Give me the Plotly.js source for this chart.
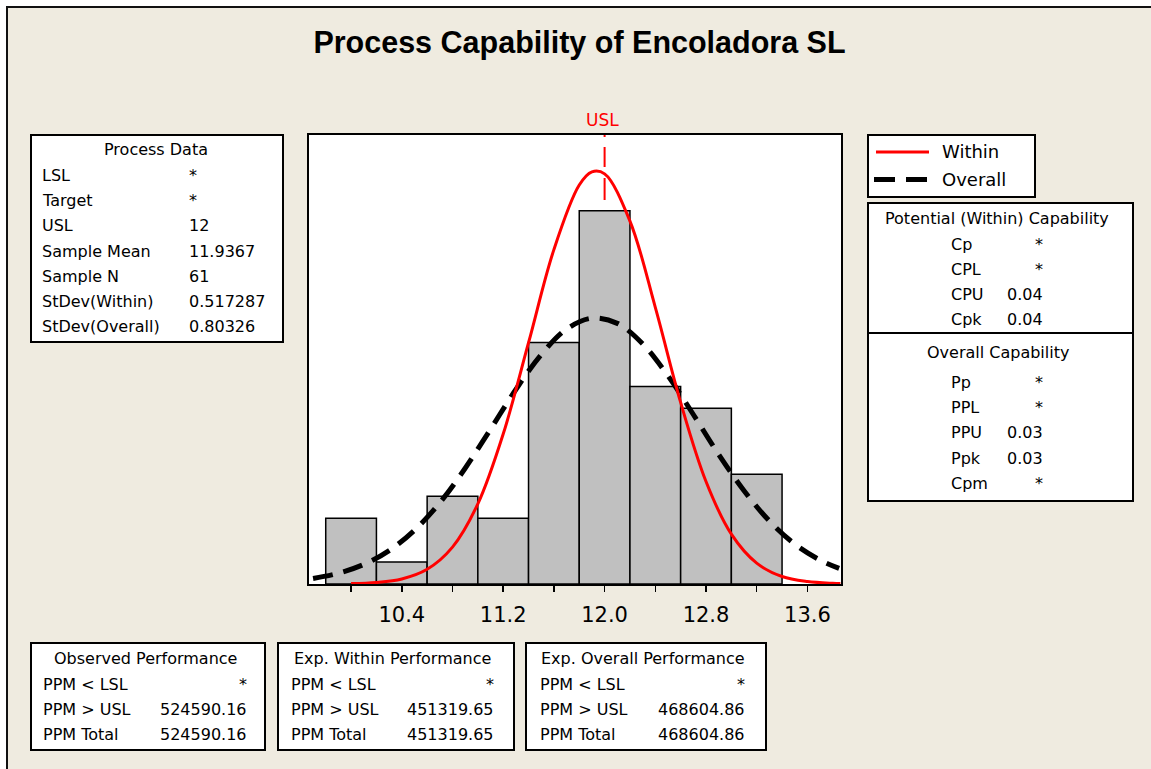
<!DOCTYPE html>
<html>
<head>
<meta charset="utf-8">
<script src="https://cdn.plot.ly/plotly-3.0.1.min.js"></script>
<style>
  html, body { margin: 0; padding: 0; background: #ffffff; }
  #chart { width: 1151px; height: 769px; }
</style>
</head>
<body>
<div id="chart"></div>
<script>
// ---------------- data ----------------
const chartTitle = 'Process Capability of Encoladora SL';

// histogram (bin width 0.4, N = 61)
const binCenters = [10.0, 10.4, 10.8, 11.2, 11.6, 12.0, 12.4, 12.8, 13.2];
const binCounts  = [3, 1, 4, 3, 11, 17, 9, 8, 5];
const binWidth = 0.4;

// "Within" fitted curve
const withinX = [10.0, 10.2, 10.4, 10.6, 10.8, 11.0, 11.2, 11.4, 11.6, 11.8, 11.9, 12.0, 12.2, 12.4, 12.6, 12.8, 13.0, 13.2, 13.4, 13.6, 13.8, 13.86];
const withinY = [0.02, 0.07, 0.23, 0.67, 1.68, 3.65, 6.83, 10.99, 15.23, 18.17, 18.77, 18.68, 16.53, 12.60, 8.27, 4.67, 2.27, 0.95, 0.34, 0.11, 0.03, 0.02];

// "Overall" fitted curve
const overallX = [9.7, 9.9, 10.1, 10.3, 10.5, 10.7, 10.9, 11.1, 11.3, 11.5, 11.7, 11.9, 12.1, 12.3, 12.5, 12.7, 12.9, 13.1, 13.3, 13.5, 13.7, 13.85];
const overallY = [0.25, 0.49, 0.89, 1.52, 2.45, 3.70, 5.27, 7.05, 8.86, 10.45, 11.61, 12.11, 11.87, 10.94, 9.48, 7.72, 5.90, 4.25, 2.87, 1.82, 1.09, 0.71];

// spec limit
const uslValue = 12;
const uslLabel = 'USL';

// axis ticks
const tickVals = [10.4, 11.2, 12.0, 12.8, 13.6];
const tickText = ['10.4', '11.2', '12.0', '12.8', '13.6'];
const minorTickVals = [10.0, 10.8, 11.6, 12.4, 13.2];

// legend
const legendNames = ['Within', 'Overall'];

// text panels
const processTitle = 'Process Data';
const processLabels = ['LSL', 'Target', 'USL', 'Sample Mean', 'Sample N', 'StDev(Within)', 'StDev(Overall)'];
const processValues = ['*', '*', '12', '11.9367', '61', '0.517287', '0.80326'];

const potentialTitle = 'Potential (Within) Capability';
const potentialLabels = ['Cp', 'CPL', 'CPU', 'Cpk'];
const potentialValues = ['*', '*', '0.04', '0.04'];

const overallCapTitle = 'Overall Capability';
const overallCapLabels = ['Pp', 'PPL', 'PPU', 'Ppk', 'Cpm'];
const overallCapValues = ['*', '*', '0.03', '0.03', '*'];

const ppmLabels = ['PPM &lt; LSL', 'PPM &gt; USL', 'PPM Total'];
const perfTitles = ['Observed Performance', 'Exp. Within Performance', 'Exp. Overall Performance'];
const observedValues   = ['*', '524590.16', '524590.16'];
const expWithinValues  = ['*', '451319.65', '451319.65'];
const expOverallValues = ['*', '468604.86', '468604.86'];

// ---------------- layout geometry ----------------
const W = 1151, H = 769;
const M = {l: 309, r: 310, t: 135, b: 185};
const plotW = W - M.l - M.r, plotH = H - M.t - M.b;
const px = v => (v - M.l) / plotW;
const py = v => (H - M.b - v) / plotH;

const BG = '#EFEBE0';
const FONT = 'DejaVu Sans, Verdana, sans-serif';
const shapes = [];
const annotations = [];

function box(x0, y0, x1, y1) {
  shapes.push({type: 'rect', xref: 'paper', yref: 'paper',
    x0: px(x0), x1: px(x1), y0: py(y0), y1: py(y1),
    line: {color: '#000', width: 2}, fillcolor: '#ffffff', layer: 'below'});
}
function hline(x0, x1, y, color, width, dash) {
  shapes.push({type: 'line', xref: 'paper', yref: 'paper',
    x0: px(x0), x1: px(x1), y0: py(y), y1: py(y),
    line: {color: color, width: width, dash: dash || 'solid'}});
}
function text(t, x, y, anchor, size, color) {
  annotations.push({text: t, xref: 'paper', yref: 'paper', x: px(x), y: py(y),
    xanchor: anchor, yanchor: 'middle', showarrow: false,
    font: {family: FONT, size: size || 16, color: color || '#000'}});
}

// outer frame (white outside, black top/left edge)
shapes.push({type: 'rect', xref: 'paper', yref: 'paper', x0: px(0), x1: px(W), y0: py(0), y1: py(6), line: {width: 0}, fillcolor: '#fff', layer: 'below'});
shapes.push({type: 'rect', xref: 'paper', yref: 'paper', x0: px(0), x1: px(6), y0: py(0), y1: py(H), line: {width: 0}, fillcolor: '#fff', layer: 'below'});
hline(6, W, 7, '#111', 2);
shapes.push({type: 'line', xref: 'paper', yref: 'paper', x0: px(7), x1: px(7), y0: py(6), y1: py(H), line: {color: '#111', width: 2}});

// USL reference line (behind bars)
shapes.push({type: 'line', xref: 'x', yref: 'paper', x0: uslValue, x1: uslValue, y0: 1, y1: 0,
  layer: 'below', line: {color: '#FF0000', width: 2,
  dash: '2px,10px,20px,11px,22px,11px,22px,11px,22px,11px,22px,11px,22px,11px,22px,11px,22px,11px,22px,11px,22px,11px,22px,11px'}});
annotations.push({text: uslLabel, xref: 'x', yref: 'paper', x: uslValue - 0.02, y: py(120),
  xanchor: 'center', yanchor: 'middle', showarrow: false, font: {family: FONT, size: 17, color: '#FF0000'}});

// Process Data panel
box(31, 135, 283, 342);
text(processTitle, 156, 150, 'center');
processLabels.forEach((l, i) => {
  const y = 175.5 + i * 25.2;
  text(l, 40, y, 'left');
  text(processValues[i], 187, y, 'left');
});

// legend panel
box(868, 135, 1035, 197);
hline(876, 929, 152, '#FF0000', 3);
hline(874, 928, 179.5, '#000', 5, '21px,11px');
text(legendNames[0], 940, 151.5, 'left', 18);
text(legendNames[1], 940, 179.5, 'left', 18);

// capability panel
box(868, 203, 1133, 501);
hline(868, 1133, 333, '#000', 2);
text(potentialTitle, 997, 218, 'center');
potentialLabels.forEach((l, i) => {
  const y = 244 + i * 25.3;
  text(l, 949, y, 'left');
  text(potentialValues[i], 1045, y, 'right');
});
text(overallCapTitle, 998, 352, 'center');
overallCapLabels.forEach((l, i) => {
  const y = 382 + i * 25.4;
  text(l, 949, y, 'left');
  text(overallCapValues[i], 1045, y, 'right');
});

// performance panels
const perfBoxes = [
  {x0: 31, x1: 265, lab: 41, val: 249, mid: 145, vals: observedValues},
  {x0: 278, x1: 514, lab: 289, val: 496, mid: 392, vals: expWithinValues},
  {x0: 526, x1: 766, lab: 538, val: 747, mid: 643, vals: expOverallValues}
];
perfBoxes.forEach((b, k) => {
  box(b.x0, 643, b.x1, 750);
  text(perfTitles[k], b.mid, 658, 'center');
  ppmLabels.forEach((l, i) => {
    const y = 684 + i * 25.3;
    text(l, b.lab, y, 'left');
    text(b.vals[i], b.val, y, 'right');
  });
});

// ---------------- traces ----------------
const traces = [
  {type: 'bar', x: binCenters, y: binCounts, width: binWidth,
   marker: {color: '#C0C0C0', line: {color: '#000', width: 1.5}},
   hoverinfo: 'skip', showlegend: false},
  {type: 'scatter', mode: 'lines', name: legendNames[1], x: overallX, y: overallY,
   line: {color: '#000', width: 5, dash: '20px,11px', shape: 'spline', smoothing: 1},
   hoverinfo: 'skip', showlegend: false},
  {type: 'scatter', mode: 'lines', name: legendNames[0], x: withinX, y: withinY,
   line: {color: '#FF0000', width: 3, shape: 'spline', smoothing: 1},
   hoverinfo: 'skip', showlegend: false}
];

const layout = {
  width: W, height: H,
  margin: M,
  paper_bgcolor: BG,
  plot_bgcolor: '#ffffff',
  bargap: 0,
  showlegend: false,
  title: {text: '<b>' + chartTitle + '</b>', xref: 'container', yref: 'container',
    x: 579.5 / W, xanchor: 'center', y: 1 - 42 / H, yanchor: 'middle',
    font: {family: 'Liberation Sans, Arial, sans-serif', size: 30.5, color: '#000'}},
  xaxis: {
    range: [9.668, 13.865], showgrid: false, zeroline: false,
    showline: true, linecolor: '#000', linewidth: 2, mirror: true,
    ticks: 'outside', ticklen: 6, tickwidth: 1.5, tickcolor: '#000',
    tickmode: 'array', tickvals: tickVals, ticktext: tickText,
    ticklabelstandoff: 5,
    minor: {tickmode: 'array', tickvals: minorTickVals, ticks: 'outside', ticklen: 6, tickwidth: 1.5, tickcolor: '#000', showgrid: false},
    tickfont: {family: FONT, size: 21, color: '#000'},
    fixedrange: true
  },
  yaxis: {
    range: [0, 20.45], showgrid: false, zeroline: false,
    showline: true, linecolor: '#000', linewidth: 2, mirror: true,
    ticks: '', showticklabels: false, fixedrange: true
  },
  shapes: shapes,
  annotations: annotations
};

Plotly.newPlot('chart', traces, layout, {displayModeBar: false, staticPlot: true});
</script>
</body>
</html>
